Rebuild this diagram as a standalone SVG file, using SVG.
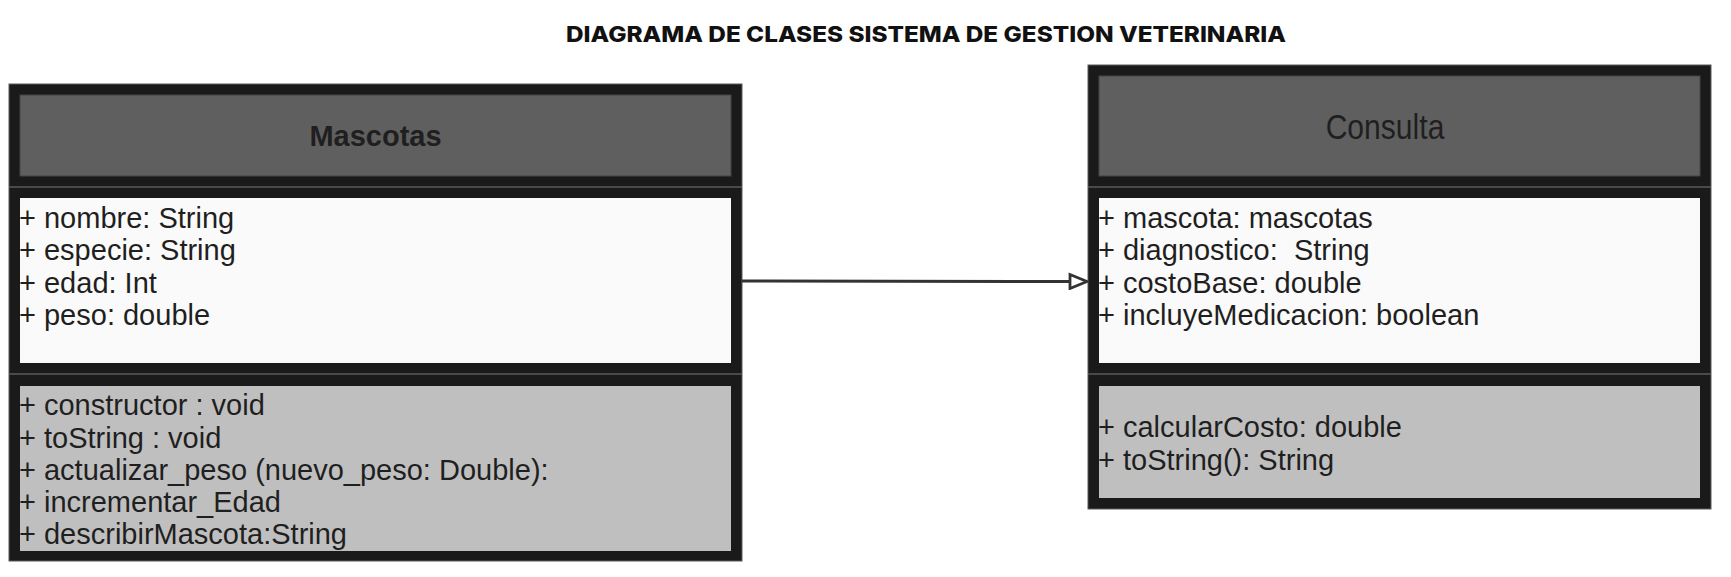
<svg xmlns="http://www.w3.org/2000/svg" width="1731" height="577" viewBox="0 0 1731 577">
<defs>
<style>
.frame{fill:#1a1a1a;stroke:#5a5a5a;stroke-width:1}
.head{fill:#5f5f5f;stroke:#444;stroke-width:1}
.attr{fill:#fafafa}
.meth{fill:#bfbfbf}
.div{stroke:#5a5a5a;stroke-width:1.5}
.t{font-family:"Liberation Sans",Arial,sans-serif;font-size:29px;fill:#1f1f1f}
.name{font-family:"Liberation Sans",Arial,sans-serif;font-size:29px;font-weight:bold;fill:#1f1f1f}
.big{font-family:"Liberation Sans",Arial,sans-serif;font-size:35px;fill:#1f1f1f}
.title{font-family:Inter,"Liberation Sans",sans-serif;font-weight:800;font-size:22px;fill:#111}
.edge{stroke:#333;stroke-width:3;fill:none}
</style>
<marker id="tri" markerUnits="userSpaceOnUse" markerWidth="22" markerHeight="18" refX="19" refY="9" orient="auto">
<path d="M2,2 L19,9 L2,16 Z" fill="#fff" stroke="#333" stroke-width="2.8" stroke-linejoin="miter"/>
</marker>
</defs>
<rect width="1731" height="577" fill="#fff"/>
<text class="title" x="926" y="42" text-anchor="middle" textLength="720" lengthAdjust="spacingAndGlyphs">DIAGRAMA DE CLASES SISTEMA DE GESTION VETERINARIA</text>

<g id="mascotas">
<rect class="frame" x="9" y="84" width="733" height="477"/>
<rect class="head" x="20" y="95" width="711" height="81"/>
<line class="div" x1="9" y1="187" x2="742" y2="187"/>
<rect class="attr" x="20" y="198" width="711" height="165"/>
<line class="div" x1="9" y1="374" x2="742" y2="374"/>
<rect class="meth" x="20" y="386" width="711" height="165"/>
<text class="name" x="375.5" y="146" text-anchor="middle">Mascotas</text>
<text class="t" x="19" y="228">+ nombre: String</text>
<text class="t" x="19" y="260">+ especie: String</text>
<text class="t" x="19" y="293">+ edad: Int</text>
<text class="t" x="19" y="325">+ peso: double</text>
<text class="t" x="19" y="415">+ constructor : void</text>
<text class="t" x="19" y="448">+ toString : void</text>
<text class="t" x="19" y="480">+ actualizar_peso (nuevo_peso: Double):</text>
<text class="t" x="19" y="512">+ incrementar_Edad</text>
<text class="t" x="19" y="544">+ describirMascota:String</text>
</g>

<g id="consulta">
<rect class="frame" x="1088" y="65" width="623" height="444"/>
<rect class="head" x="1099" y="76" width="601" height="100"/>
<line class="div" x1="1088" y1="187" x2="1711" y2="187"/>
<rect class="attr" x="1099" y="198" width="601" height="165"/>
<line class="div" x1="1088" y1="374" x2="1711" y2="374"/>
<rect class="meth" x="1099" y="386" width="601" height="112"/>
<text class="big" transform="translate(1385,138.5) scale(0.86,1)" x="0" y="0" text-anchor="middle">Consulta</text>
<text class="t" x="1098" y="228">+ mascota: mascotas</text>
<text class="t" x="1098" y="260">+ diagnostico:&#160; String</text>
<text class="t" x="1098" y="293">+ costoBase: double</text>
<text class="t" x="1098" y="325">+ incluyeMedicacion: boolean</text>
<text class="t" x="1098" y="437">+ calcularCosto: double</text>
<text class="t" x="1098" y="470">+ toString(): String</text>
</g>

<g id="connectors">
<line class="edge" x1="742" y1="281" x2="1087" y2="281.5" marker-end="url(#tri)"/>
</g>
</svg>
